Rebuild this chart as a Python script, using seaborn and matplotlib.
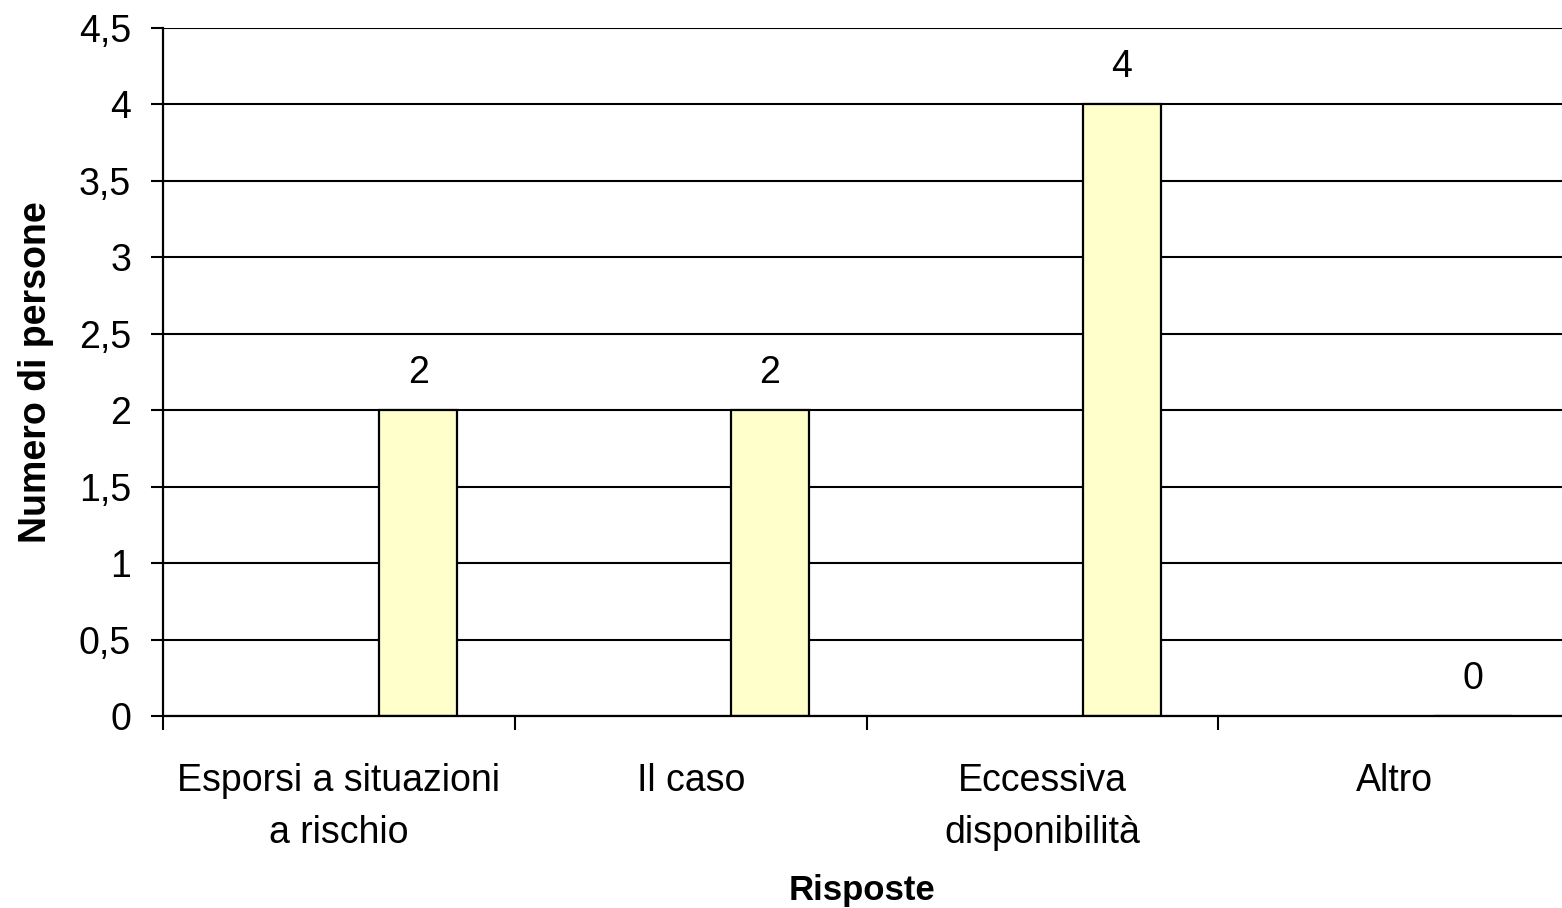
import matplotlib
matplotlib.use('Agg')
import matplotlib.pyplot as plt
import pandas as pd
import seaborn as sns
from matplotlib.ticker import FixedLocator, FuncFormatter

# Data
categories = ['Esporsi a situazioni\na rischio', 'Il caso', 'Eccessiva\ndisponibilità', 'Altro']
counts = [2, 2, 4, 0]
y_ticks = [0, 0.5, 1, 1.5, 2, 2.5, 3, 3.5, 4, 4.5]

df = pd.DataFrame({'risposta': categories, 'persone': counts})

sns.set_theme(style='white')
plt.rcParams['font.family'] = ['Liberation Sans', 'DejaVu Sans']
plt.rcParams['text.color'] = 'black'
plt.rcParams['axes.labelcolor'] = 'black'
plt.rcParams['xtick.color'] = 'black'
plt.rcParams['ytick.color'] = 'black'

fig = plt.figure(figsize=(15.62, 9.08), dpi=100)
# the plot area runs slightly past the right edge of the picture, as in the original
ax = fig.add_axes([0.1044, 0.2115, 0.9008, 0.7577])

sns.barplot(data=df, x='risposta', y='persone', color='#FFFFCC', saturation=1,
            width=0.222, edgecolor='black', linewidth=1.6, ax=ax, zorder=3)

# Excel-style offset of the bars within each category
for patch in ax.patches:
    patch.set_x(patch.get_x() + 0.225)

ax.bar_label(ax.containers[0], labels=[str(v) for v in counts], padding=14,
             fontsize=27, color='black')

ax.set_xlim(-0.5, 3.5)
ax.set_ylim(0, 4.5)

# y axis with comma decimals and black gridlines
ax.yaxis.set_major_locator(FixedLocator(y_ticks))
ax.yaxis.set_major_formatter(FuncFormatter(lambda v, p: f'{v:g}'.replace('.', ',')))
ax.grid(axis='y', color='black', linewidth=1.5, zorder=0)
ax.set_axisbelow(True)

# x ticks at category borders, labels at centers
ax.xaxis.set_major_locator(FixedLocator([-0.5, 0.5, 1.5, 2.5, 3.5]))
ax.xaxis.set_major_formatter(FuncFormatter(lambda v, p: ''))
ax.set_xticks(range(len(categories)), minor=True)
ax.set_xticklabels(categories, minor=True, fontsize=27, linespacing=1.55, color='black')
ax.tick_params(axis='x', which='minor', length=0, pad=34)
ax.tick_params(axis='x', which='major', length=10, width=1.5, color='black',
               direction='out', bottom=True)
ax.tick_params(axis='y', length=9, width=1.5, color='black', direction='out',
               left=True, labelsize=27, pad=14, labelcolor='black')

for side in ['top', 'right']:
    ax.spines[side].set_visible(False)
for side in ['left', 'bottom']:
    ax.spines[side].set_color('black')
    ax.spines[side].set_linewidth(1.6)
    ax.spines[side].set_zorder(4)

ax.set_xlabel('Risposte', fontsize=25, fontweight='bold')
ax.set_ylabel('Numero di persone', fontsize=27, fontweight='bold')
ax.xaxis.set_label_coords(0.5 * 0.8943 / 0.9008, -0.253)
ax.xaxis.label.set_va('center')
ax.yaxis.set_label_coords(-0.09, 0.5)
ax.yaxis.label.set_va('center')

fig.savefig('out.png', dpi=100)
